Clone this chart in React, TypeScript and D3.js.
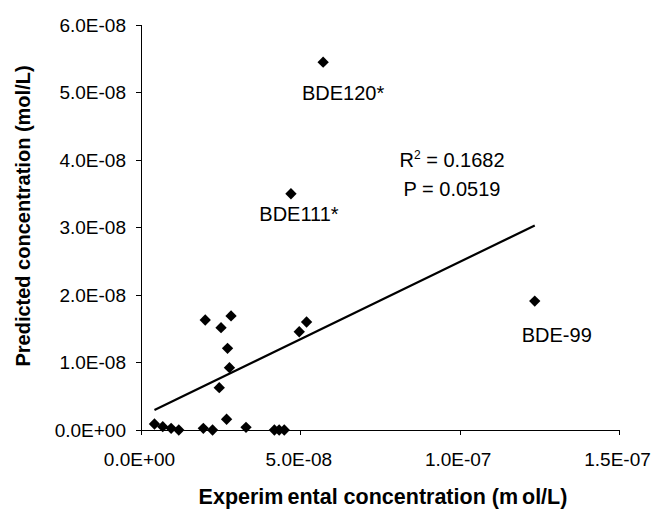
import React from "react";
import * as d3 from "d3";

const expX = [4.07e-9, 6.67e-9, 9.3e-9, 11.7e-9, 19.4e-9, 22.3e-9, 26.7e-9, 32.8e-9, 41.7e-9, 43.2e-9, 44.8e-9,
  20.0e-9, 24.96e-9, 28.1e-9, 27.0e-9, 27.6e-9, 24.4e-9, 49.5e-9, 51.8e-9, 57.0e-9, 46.9e-9, 123.4e-9];
const predY = [8.9e-10, 4.9e-10, 2.5e-10, 0, 2.5e-10, 0, 1.59e-9, 4e-10, 0, 0, 0,
  1.63e-8, 1.516e-8, 1.69e-8, 1.21e-8, 9.23e-9, 6.27e-9, 1.456e-8, 1.60e-8, 5.45e-8, 3.50e-8, 1.91e-8];
const pointLabels = ["", "", "", "", "", "", "", "", "", "", "", "", "", "", "", "", "", "", "", "BDE120*", "BDE111*", "BDE-99"];
const trendX = [4.07e-9, 1.234e-7];
const trendY = [2.96e-9, 3.03e-8];
const xTicks = [0, 5e-8, 1e-7, 1.5e-7];
const yTicks = [0, 1e-8, 2e-8, 3e-8, 4e-8, 5e-8, 6e-8];
const statsText = ["= 0.1682", "P = 0.0519"];

const W = 657, H = 515;
const FONT = "Arial, 'Liberation Sans', sans-serif";

function fmt(v: number): string {
  const [m, e] = v.toExponential(1).split("e");
  const sign = e[0] === "-" ? "-" : "+";
  const digits = e.replace(/[+-]/, "").padStart(2, "0");
  return `${m}E${sign}${digits}`;
}

export default function App() {
  const x = d3.scaleLinear().domain([0, 1.5e-7]).range([141.5, 619.5]);
  const y = d3.scaleLinear().domain([0, 6e-8]).range([430, 25]);
  const line = d3.line<number>().x((_, i) => x(trendX[i])).y((_, i) => y(trendY[i]));
  const diamond = d3.symbol().type(d3.symbolDiamond2).size(82)();
  const labelOffsets: Record<string, [number, number]> = {
    "BDE120*": [20, 38],
    "BDE111*": [8, 27],
    "BDE-99": [22, 41],
  };
  const x0 = x(0), y0 = y(0);
  return (
    <svg width={W} height={H} style={{ position: "absolute", left: 0, top: 0, background: "#fff" }} fontFamily={FONT}>
      <rect width={W} height={H} fill="#fff" />
      <line x1={x0} x2={x0} y1={y(6e-8)} y2={y0} stroke="#000" strokeWidth={1} shapeRendering="crispEdges" />
      <line x1={x0} x2={x(1.5e-7)} y1={y0} y2={y0} stroke="#000" strokeWidth={1} shapeRendering="crispEdges" />
      {yTicks.map((t) => (
        <g key={"y" + t}>
          <line x1={x0 - 6} x2={x0} y1={y(t)} y2={y(t)} stroke="#000" shapeRendering="crispEdges" />
          <text x={126} y={y(t) + 6.7} textAnchor="end" fontSize={19} fill="#000">{fmt(t)}</text>
        </g>
      ))}
      {xTicks.map((t) => (
        <g key={"x" + t}>
          <line x1={x(t)} x2={x(t)} y1={y0} y2={y0 + 5} stroke="#000" shapeRendering="crispEdges" />
          <text x={x(t) - 2} y={466} textAnchor="middle" fontSize={19} fill="#000">{fmt(t)}</text>
        </g>
      ))}
      <path d={line(trendX) || ""} fill="none" stroke="#000" strokeWidth={2.2} />
      {expX.map((v, i) => (
        <path key={i} d={diamond || ""} transform={`translate(${x(v)},${y(predY[i])})`} fill="#000" />
      ))}
      {pointLabels.map((lab, i) =>
        lab ? (
          <text key={"l" + i} x={x(expX[i]) + labelOffsets[lab][0]} y={y(predY[i]) + labelOffsets[lab][1]}
            textAnchor="middle" fontSize={20} fill="#000">{lab}</text>
        ) : null
      )}
      <text x={452} y={167} textAnchor="middle" fontSize={20} fill="#000">
        R<tspan fontSize={12} dy={-8}>2</tspan><tspan dy={8}> {statsText[0]}</tspan>
      </text>
      <text x={452} y={196} textAnchor="middle" fontSize={20} fill="#000">{statsText[1]}</text>
      <text transform={`translate(30,216) rotate(-90)`} textAnchor="middle" fontSize={20} fontWeight="bold" fill="#000">
        Predicted concentration (mol/L)
      </text>
      <text x={383} y={504} textAnchor="middle" fontSize={21.5} fontWeight="bold" fill="#000">
        Experim<tspan dx={4}>ental concentration (m</tspan><tspan dx={4}>ol/L)</tspan>
      </text>
    </svg>
  );
}
